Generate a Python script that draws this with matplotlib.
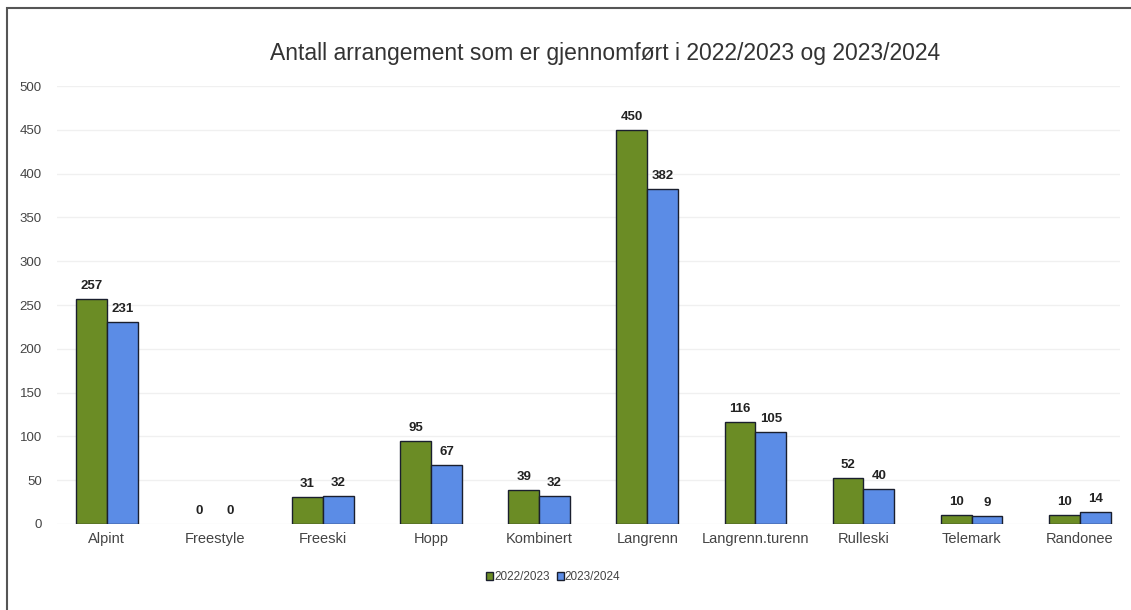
import matplotlib.pyplot as plt
import numpy as np
from matplotlib.patches import Rectangle

plt.rcParams['font.family'] = ['Liberation Sans', 'DejaVu Sans']

# Data
categories = ['Alpint', 'Freestyle', 'Freeski', 'Hopp', 'Kombinert', 'Langrenn',
              'Langrenn.turenn', 'Rulleski', 'Telemark', 'Randonee']
season_2223 = [257, 0, 31, 95, 39, 450, 116, 52, 10, 10]
season_2324 = [231, 0, 32, 67, 32, 382, 105, 40, 9, 14]
series_labels = ['2022/2023', '2023/2024']

green = '#6b8c25'
blue = '#5b8ce6'

fig = plt.figure(figsize=(11.31, 6.10), dpi=100)
ax = fig.add_axes([0.0504, 0.141, 0.9396, 0.718])

x = np.arange(len(categories))
w = 0.285
b1 = ax.bar(x - w / 2, season_2223, w, color=green, edgecolor='#1a1f2e',
            linewidth=[1.0 if v > 0 else 0 for v in season_2223],
            label=series_labels[0], zorder=3)
b2 = ax.bar(x + w / 2, season_2324, w, color=blue, edgecolor='#1a1f2e',
            linewidth=[1.0 if v > 0 else 0 for v in season_2324],
            label=series_labels[1], zorder=3)

for bars in (b1, b2):
    ax.bar_label(bars, padding=5, fontsize=9.5, fontweight='bold', color='#222222')

ax.set_xlim(-0.46, 9.37)
ax.set_ylim(0, 500)
ax.set_yticks(np.arange(0, 501, 50))
ax.grid(axis='y', color='#f0f0f0', linewidth=1.0, zorder=0)
ax.set_xticks(x)
ax.set_xticklabels(categories)
ax.tick_params(axis='both', length=0, labelsize=10.5, colors='#444444')
ax.tick_params(axis='y', labelsize=9.5, pad=11)
ax.tick_params(axis='x', pad=6)
for s in ax.spines.values():
    s.set_visible(False)

fig.text(0.535, 0.913, 'Antall arrangement som er gjennomført i 2022/2023 og 2023/2024',
         ha='center', va='center', fontsize=16.5, color='#333333')

leg = fig.legend(handles=[b1, b2], loc='center', bbox_to_anchor=(0.489, 0.054),
                 ncol=2, frameon=False, fontsize=8.5, handlelength=0.6, handleheight=0.6,
                 handletextpad=0.1, columnspacing=0.6, labelcolor='#444444')

# outer frame
fig.patches.append(Rectangle((7 / 1131, -0.1), 1.2, 1.0873, transform=fig.transFigure,
                             fill=False, edgecolor='#555555', linewidth=1.5))

fig.savefig('out.png', dpi=100)
